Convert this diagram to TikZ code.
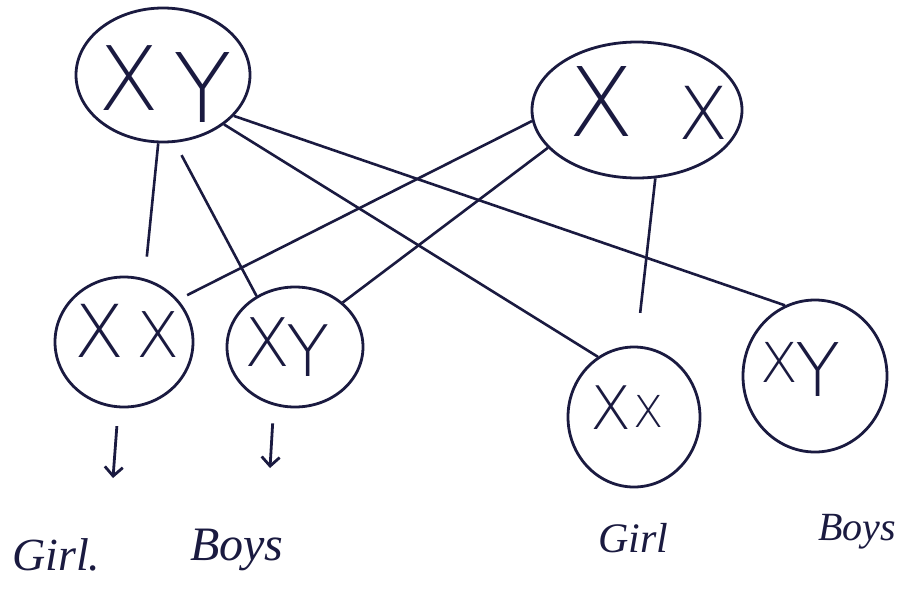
\documentclass[tikz,border=0pt]{standalone}
\usepackage{fontspec}
\setmainfont{Liberation Serif}
\newfontfamily\xyfont{DejaVu Sans ExtraLight}
\usetikzlibrary{shapes.geometric,arrows.meta}
\definecolor{ink}{HTML}{1A1A40}
\begin{document}
\begin{tikzpicture}[x=1pt,y=-1pt,
  cell/.style={draw=ink, line width=2.8pt, ellipse, inner sep=0pt},
  chrom/.style={text=ink, inner sep=0pt, font=\xyfont\fontsize{#1}{#1}\selectfont},
  link/.style={draw=ink, line width=2.6pt},
  lab/.style={text=ink, inner sep=0pt, font=\itshape\fontsize{#1}{#1}\selectfont},
  down/.style={draw=ink, line width=2.8pt, -{Straight Barb[length=9pt,width=18pt]}}]
\useasboundingbox (0,0) rectangle (902,592);
\fill[white] (0,0) rectangle (902,592);
% cells
\node[cell, minimum width=174pt, minimum height=134pt] (pxy) at (163,75) {};
\node[cell, minimum width=210pt, minimum height=136pt] (pxx) at (637,110) {};
\node[cell, minimum width=138pt, minimum height=130pt] (cxx) at (124,342) {};
\node[cell, minimum width=136pt, minimum height=120pt] (cxy) at (295,347) {};
\node[cell, minimum width=132pt, minimum height=140pt] (gxx) at (634,417) {};
\node[cell, minimum width=144pt, minimum height=152pt] (bxy) at (815,376) {};
% chromosomes
\node[chrom=89] (pxy1) at (129,78) {X};
\node[chrom=96] (pxy2) at (203,88) {Y};
\node[chrom=96] (pxx1) at (601,102) {X};
\node[chrom=73] (pxx2) at (703,113) {X};
\node[chrom=73] (cxx1) at (100,331) {X};
\node[chrom=63] (cxx2) at (158,335) {X};
\node[chrom=67] (cxy1) at (267,342) {X};
\node[chrom=71] (cxy2) at (308,351) {Y};
\node[chrom=60] (gxx1) at (611,408) {X};
\node[chrom=44] (gxx2) at (649,411) {X};
\node[chrom=55] (bxy1) at (779,362) {X};
\node[chrom=74] (bxy2) at (818,370) {Y};
% connectors
\draw[link, shorten >=22pt] (pxy.266) -- (cxx.72);
\draw[link, shorten <=14pt] (pxy.280) -- (cxy.127);
\draw[link] (pxy.321) -- (gxx.121);
\draw[link] (pxy.330) -- (bxy.113);
\draw[link, shorten >=10pt] (pxx.186) -- (cxx.38);
\draw[link] (pxx.203) -- (cxy.43);
\draw[link, shorten >=33pt] (pxx.285) -- (gxx.88);
% down arrows
\coordinate (a1e) at (113,478);
\coordinate (a2e) at (270,468);
\draw[down, shorten <=18pt] (cxx.265) -- (a1e);
\draw[down, shorten <=18pt] (cxy.250) -- (a2e);
% labels
\node[lab=46, anchor=base west] (l1) at (12,570) {Girl.};
\node[lab=48, anchor=base west] (l2) at (190,560) {Boys};
\node[lab=42, anchor=base west] (l3) at (598,552) {Girl};
\node[lab=40, anchor=base west] (l4) at (818,540) {Boys};
\end{tikzpicture}
\end{document}
